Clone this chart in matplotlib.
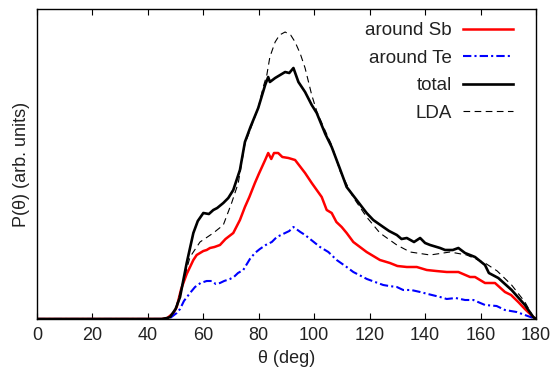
import matplotlib
matplotlib.use("Agg")
import matplotlib.pyplot as plt

plt.rcParams['font.family'] = ['Liberation Sans', 'DejaVu Sans']

# theta (deg) and P(theta) values (arbitrary units)
theta_sb = [0, 45, 47, 49.2, 50.4, 52, 54, 56.4, 57.6, 60, 61.2, 62.4, 64, 66, 68, 70.8, 73.2, 75, 76.6,
            78.6, 80, 82.3, 83.4, 84.5, 85.5, 87, 88.5, 90.7, 93.1, 96.7, 99.1, 102.7, 104.5, 106.3, 108,
            109.9, 111.7, 114.1, 118.9, 123.7, 127.3, 130, 133.4, 137, 140.6, 144, 147.8, 152, 156.2, 158,
            161.6, 165.2, 168.8, 171, 173.6, 176, 179, 180]
p_sb = [0, 0, 1, 6, 12, 30, 45, 59, 64, 68, 69, 71, 72, 74, 80, 86, 99, 112, 122,
        136, 145, 159, 166, 160, 166, 166, 162, 161, 159, 146, 136, 122, 109, 106, 97,
        92, 86, 77, 67, 59, 56, 53, 52, 52, 49, 48, 47, 47, 42, 42,
        36, 36, 27, 24, 17, 10, 2, 0]

theta_te = [0, 46, 48, 50.4, 51.6, 53, 55.2, 57, 59, 61.2, 63, 64.5, 66, 67.5, 69.6, 71, 72.5, 74.4, 76.8,
            78.6, 80.4, 82.5, 84.7, 86.5, 88, 89.5, 91, 92.5, 93.5, 95, 96.7, 98.5, 100.3, 102.1, 105.1,
            108.1, 111.7, 114.1, 119, 124.9, 127, 129.8, 132.1, 135, 138.2, 141, 145.4, 147.8, 151, 154.4,
            157.4, 161.6, 165.8, 168.8, 173, 176, 178, 180]
p_te = [0, 0, 1, 6, 10, 18, 26, 32, 36, 38, 38, 35, 36, 38, 40, 42, 46, 49, 60,
        66, 70, 74, 77, 82, 84, 86, 88, 92, 90, 87, 84, 80, 76, 72, 67,
        59, 52, 47, 40, 34, 33, 32, 29, 29, 27, 25, 22, 20, 21, 19,
        19, 14, 13, 9, 7, 4, 2, 0]

theta_tot = [0, 45, 47, 48, 50, 51.6, 54, 56.4, 58, 60, 62, 63.6, 65, 67.2, 69, 70.8, 73.2, 75, 77, 79.8,
             82.3, 83.4, 84, 85.9, 87.7, 89.5, 91, 92.5, 94.3, 96.7, 99.1, 100.9, 104, 106.3, 109.3, 111.7,
             115.3, 118.9, 121.3, 124.9, 127, 129.8, 131.5, 133.4, 136, 138.2, 140, 141.8, 145.4, 147.2,
             150, 152, 154.4, 158, 161.6, 163, 166.4, 171.2, 176, 179, 180]
p_tot = [0, 0, 1, 2, 10, 22, 56, 86, 98, 106, 105, 109, 111, 116, 121, 129, 149, 177, 192, 211,
         234, 242, 237, 241, 244, 247, 246, 251, 237, 227, 214, 206, 185, 172, 150, 132,
         119, 106, 99, 92, 88, 84, 80, 81, 77, 81, 76, 74, 71, 69,
         69, 71, 66, 62, 54, 46, 41, 29, 14, 2, 0]

theta_lda = [0, 45, 47, 48, 50, 52, 55.2, 58.8, 63.6, 67.2, 70.2, 72.6, 75, 79.8, 81.6, 82.9, 84, 85.9,
             87.5, 89.5, 91.5, 93.1, 95, 96.7, 99.1, 101, 104, 106.3, 109.3, 114, 118.9, 123.7, 129.8,
             134.6, 141.8, 149, 155, 161.6, 166, 171.2, 176, 179, 180]
p_lda = [0, 0, 1, 2, 10, 30, 62, 77, 86, 94, 116, 136, 175, 211, 232, 244, 262, 277,
         284, 287, 284, 277, 265, 251, 224, 207, 188, 174, 148, 122, 102, 86, 74,
         67, 64, 67, 64, 56, 48, 34, 17, 2, 0]

xticks = [0, 20, 40, 60, 80, 100, 120, 140, 160, 180]

fig = plt.figure(figsize=(5.54, 3.77), dpi=100)
ax = fig.add_axes([37/554, 1 - 319/377, (536 - 37)/554, (319 - 9)/377])

ax.plot(theta_sb, p_sb, color='#ff0000', lw=1.8, label='around Sb')
ax.plot(theta_te, p_te, color='#0000ff', lw=1.5, dashes=(4, 1.5, 1, 1.5), label='around Te')
ax.plot(theta_tot, p_tot, color='black', lw=1.9, label='total')
ax.plot(theta_lda, p_lda, color='black', lw=0.8, dashes=(6, 4), label='LDA')

ax.set_xlim(0, 180)
ax.set_ylim(0, 310)
ax.set_xticks(xticks)
ax.set_yticks([])
ax.tick_params(axis='x', direction='in', top=True, length=4, width=0.8, labelsize=13,
               labelcolor='#222222', pad=6)
for s in ax.spines.values():
    s.set_linewidth(1.0)

ax.set_xlabel('θ (deg)', fontsize=13, color='#222222', labelpad=4)
ax.set_ylabel('P(θ) (arb. units)', fontsize=13, color='#222222', labelpad=5)

leg = ax.legend(loc='upper right', bbox_to_anchor=(0.969, 0.982), frameon=False,
                markerfirst=False, fontsize=13.5, handlelength=2.67, handletextpad=0.6,
                labelspacing=0.55, borderaxespad=0)
for t in leg.get_texts():
    t.set_color('#222222')

fig.savefig('out.png', dpi=100)
